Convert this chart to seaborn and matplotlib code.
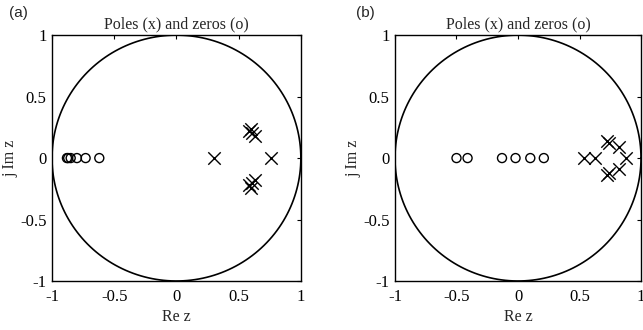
import numpy as np
import pandas as pd
import matplotlib
matplotlib.use('Agg')
import matplotlib.pyplot as plt
import seaborn as sns

sns.set_style('white')
plt.rcParams['font.family'] = ['Liberation Serif', 'DejaVu Serif']

# 零点和极点 (实部, 虚部)
zeros_a_re = [-0.88, -0.87, -0.85, -0.80, -0.73, -0.62]
zeros_a_im = [0, 0, 0, 0, 0, 0]
poles_a_re = [0.58, 0.60, 0.61, 0.63, 0.58, 0.60, 0.61, 0.63, 0.30, 0.76]
poles_a_im = [0.22, 0.24, 0.20, 0.18, -0.22, -0.24, -0.20, -0.18, 0, 0]

zeros_b_re = [-0.50, -0.41, -0.13, -0.02, 0.10, 0.21]
zeros_b_im = [0, 0, 0, 0, 0, 0]
poles_b_re = [0.72, 0.74, 0.82, 0.72, 0.74, 0.82, 0.54, 0.63, 0.88]
poles_b_im = [0.14, 0.12, 0.09, -0.14, -0.12, -0.09, 0, 0, 0]

ticks = [-1, -0.5, 0, 0.5, 1]
tick_labels = ['-1', '-0.5', '0', '0.5', '1']

# 单位圆
theta = np.linspace(0, 2 * np.pi, 200)
circle = pd.DataFrame({'re': np.cos(theta), 'im': np.sin(theta)})

fig = plt.figure(figsize=(6.43, 3.30), dpi=100)
ax_a = fig.add_axes([0.0809, 0.1485, 0.387, 0.745])
ax_b = fig.add_axes([0.6143, 0.1485, 0.3826, 0.745])

panels = [
    (ax_a, zeros_a_re, zeros_a_im, poles_a_re, poles_a_im),
    (ax_b, zeros_b_re, zeros_b_im, poles_b_re, poles_b_im),
]

for ax, zr, zi, pr, pi_ in panels:
    ax.plot(circle['re'], circle['im'], color='black', lw=1.2)
    sns.scatterplot(x=zr, y=zi, ax=ax, marker='o', s=42, facecolor='none',
                    edgecolor='black', linewidth=1.0)
    sns.scatterplot(x=pr, y=pi_, ax=ax, marker='x', s=80, color='black',
                    linewidth=1.0)
    ax.set_xlim(-1, 1)
    ax.set_ylim(-1, 1)
    ax.set_xticks(ticks)
    ax.set_xticklabels(tick_labels)
    ax.set_yticks(ticks)
    ax.set_yticklabels(tick_labels)
    ax.tick_params(direction='in', top=True, right=True, length=3,
                   labelsize=12, colors='black')
    ax.tick_params(axis='x', pad=6)
    ax.tick_params(axis='y', pad=4)
    for sp in ax.spines.values():
        sp.set_visible(True)
        sp.set_color('black')
        sp.set_linewidth(1.0)
    ax.set_title('Poles (x) and zeros (o)', fontsize=11.5, pad=5)
    ax.set_xlabel('Re z', fontsize=11.5, labelpad=3)
    ax.set_ylabel('j Im z', fontsize=11.5, labelpad=1)

fig.text(0.028, 0.962, '(a)', fontsize=11, ha='center', va='center',
         family=['Liberation Sans', 'DejaVu Sans'])
fig.text(0.568, 0.962, '(b)', fontsize=11, ha='center', va='center',
         family=['Liberation Sans', 'DejaVu Sans'])

fig.savefig('out.png', dpi=100)
